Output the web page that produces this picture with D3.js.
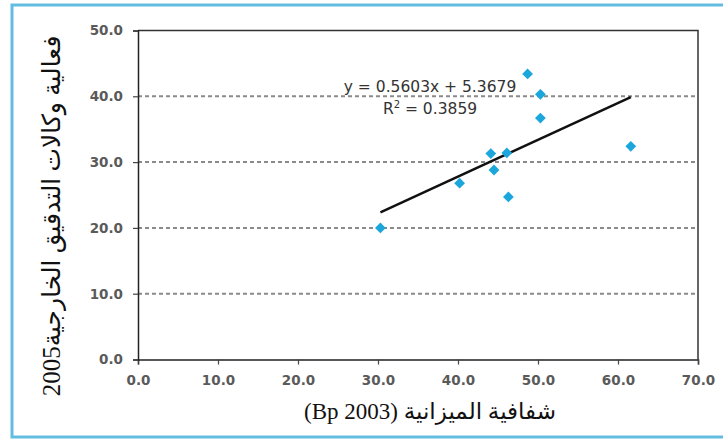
<!DOCTYPE html>
<html>
<head>
<meta charset="utf-8">
<script src="https://cdn.jsdelivr.net/npm/d3@7"></script>
<style>
  body { margin: 0; background: #fff; }
  svg { display: block; }
</style>
</head>
<body>
<svg id="chart" width="723" height="440"></svg>
<script>
// data
const xValues = [30.3, 40.2, 44.1, 44.5, 46.1, 46.3, 48.7, 50.3, 50.3, 61.6]
const yValues = [20.0, 26.8, 31.3, 28.8, 31.4, 24.7, 43.4, 40.3, 36.7, 32.4]
const xTicks = [0, 10, 20, 30, 40, 50, 60, 70]
const yTicks = [0, 10, 20, 30, 40, 50]
const slope = 0.5603
const intercept = 5.3679
const eqLabel = 'y = 0.5603x + 5.3679'
const r2Label = '= 0.3859'
const xTitle = 'شفافية الميزانية (Bp 2003)'
const yTitle = 'فعالية وكالات التدقيق الخارجية2005'

const width = 723
const height = 440
const margin = { top: 30.5, right: 25, bottom: 80.5, left: 138 }

const svg = d3.select('#chart')

// light blue frame around the whole figure
svg.append('rect')
  .attr('x', 12)
  .attr('y', 5)
  .attr('width', 720)
  .attr('height', 432)
  .attr('fill', '#fff')
  .attr('stroke', '#62bde0')
  .attr('stroke-width', 3)

const xScale = d3.scaleLinear()
  .domain([0, 70])
  .range([margin.left, width - margin.right])
const yScale = d3.scaleLinear()
  .domain([0, 50])
  .range([height - margin.bottom, margin.top])

// dashed grid
svg.append('g')
  .selectAll('line')
  .data(yTicks.filter(d => d > 0 && d < 50))
  .enter().append('line')
  .attr('x1', xScale(0))
  .attr('x2', xScale(70))
  .attr('y1', d => yScale(d))
  .attr('y2', d => yScale(d))
  .attr('stroke', '#8a8a8a')
  .attr('stroke-width', 2)
  .attr('stroke-dasharray', '4,3')

// plot area border (top + right)
svg.append('path')
  .attr('d', `M${xScale(0)},${yScale(50)}H${xScale(70)}V${yScale(0)}`)
  .attr('fill', 'none')
  .attr('stroke', '#333')
  .attr('stroke-width', 1.5)

const fmt = d3.format('.1f')

const xAxis = svg.append('g')
  .attr('transform', `translate(0, ${yScale(0)})`)
  .call(d3.axisBottom(xScale).tickValues(xTicks).tickFormat(fmt).tickSize(5).tickPadding(11))
const yAxis = svg.append('g')
  .attr('transform', `translate(${xScale(0)}, 0)`)
  .call(d3.axisLeft(yScale).tickValues(yTicks).tickFormat(fmt).tickSize(5).tickPadding(10))

;[xAxis, yAxis].forEach(ax => {
  ax.select('.domain').attr('stroke', '#222').attr('stroke-width', 1.5)
  ax.selectAll('.tick line').attr('stroke', '#444').attr('stroke-width', 1.2)
  ax.selectAll('.tick text')
    .attr('fill', '#5a5a5a')
    .style('font-family', '"DejaVu Sans", sans-serif')
    .style('font-size', '13.5px')
    .style('font-weight', 'bold')
})

// trend line across the data range
const xMin = d3.min(xValues)
const xMax = d3.max(xValues)
svg.append('line')
  .attr('x1', xScale(xMin))
  .attr('y1', yScale(slope * xMin + intercept))
  .attr('x2', xScale(xMax))
  .attr('y2', yScale(slope * xMax + intercept))
  .attr('stroke', '#111')
  .attr('stroke-width', 2.5)

// diamonds
const data = xValues.map((x, i) => ({ x: x, y: yValues[i] }))
svg.append('g')
  .selectAll('path')
  .data(data)
  .enter().append('path')
  .attr('d', d3.symbol(d3.symbolSquare, 58))
  .attr('transform', d => `translate(${xScale(d.x)}, ${yScale(d.y)}) rotate(45)`)
  .attr('fill', '#1ba6dc')

// equation labels
const eqFont = '"DejaVu Sans", sans-serif'
svg.append('text')
  .attr('x', 430)
  .attr('y', 92)
  .attr('text-anchor', 'middle')
  .attr('fill', '#333')
  .style('font-family', eqFont)
  .style('font-size', '15.5px')
  .text(eqLabel)
const r2 = svg.append('text')
  .attr('x', 430)
  .attr('y', 114)
  .attr('text-anchor', 'middle')
  .attr('fill', '#333')
  .style('font-family', eqFont)
  .style('font-size', '15.5px')
r2.append('tspan').text('R')
r2.append('tspan').attr('dy', -6).style('font-size', '10px').text('2')
r2.append('tspan').attr('dy', 6).text(' ' + r2Label)

// axis titles
svg.append('text')
  .attr('x', 430)
  .attr('y', 419)
  .attr('text-anchor', 'middle')
  .attr('direction', 'rtl')
  .attr('fill', '#111')
  .style('font-family', '"Liberation Serif", "DejaVu Sans", serif')
  .style('font-size', '23px')
  .text(xTitle)

svg.append('text')
  .attr('transform', `translate(60, 216) rotate(-90)`)
  .attr('text-anchor', 'middle')
  .attr('fill', '#111')
  .style('font-family', '"Liberation Serif", "DejaVu Sans", serif')
  .style('font-size', '25px')
  .text(yTitle)
</script>
</body>
</html>
